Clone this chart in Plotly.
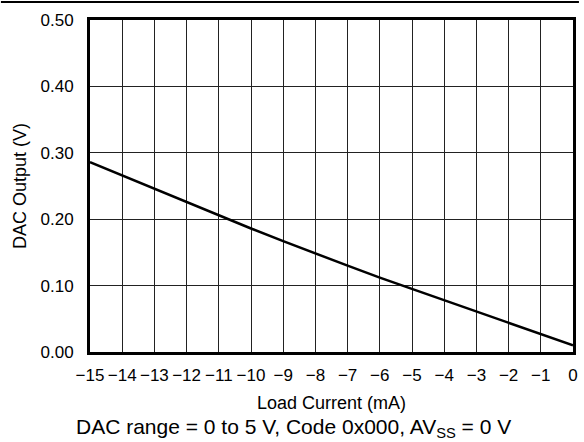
import plotly.graph_objects as go

load_current = [-15, -14, -13, -12, -11, -10, -9, -8, -7, -6, -5, -4, -3, -2, -1, 0]
dac_output = [0.286, 0.266, 0.246, 0.225, 0.205, 0.186, 0.167, 0.148, 0.130, 0.112, 0.095, 0.078, 0.061, 0.043, 0.026, 0.010]

x_ticks = list(range(-15, 1))
x_tick_text = ["\u2212" + str(-v) if v < 0 else str(v) for v in x_ticks]
y_ticks = [0.0, 0.1, 0.2, 0.3, 0.4, 0.5]
y_tick_text = ["0.00", "0.10", "0.20", "0.30", "0.40", "0.50"]

font_family = "Liberation Sans, Arial, sans-serif"

fig = go.Figure()
fig.add_trace(go.Scatter(
    x=load_current, y=dac_output, mode="lines",
    line=dict(color="black", width=2.5), showlegend=False, hoverinfo="skip"
))

fig.update_layout(
    width=584, height=442,
    margin=dict(l=90, r=6, t=20, b=90),
    paper_bgcolor="white", plot_bgcolor="white",
    font=dict(family=font_family, color="black", size=17),
    xaxis=dict(
        range=[-15, 0], tickvals=x_ticks, ticktext=x_tick_text,
        showgrid=True, gridcolor="#222", gridwidth=1,
        zeroline=False, showline=True, linecolor="black", linewidth=3, mirror=True,
        ticks="", tickfont=dict(size=17, family=font_family),
        ticklabelstandoff=6,
        title=dict(text="Load Current (mA)", font=dict(size=18, family=font_family), standoff=12),
    ),
    yaxis=dict(
        range=[0, 0.5], tickvals=y_ticks, ticktext=y_tick_text,
        showgrid=True, gridcolor="#222", gridwidth=1,
        zeroline=False, showline=True, linecolor="black", linewidth=3, mirror=True,
        ticks="", tickfont=dict(size=17, family=font_family),
        ticklabelstandoff=10,
        title=dict(text="DAC Output (V)", font=dict(size=18, family=font_family), standoff=10),
    ),
    annotations=[dict(
        text="DAC range = 0 to 5 V, Code 0x000, AV<sub>SS</sub> = 0 V",
        xref="paper", yref="paper", x=0.422, y=-76 / 332, xanchor="center", yanchor="middle",
        showarrow=False, font=dict(size=21, family=font_family, color="black"),
    )],
    shapes=[dict(
        type="line", xref="paper", yref="paper",
        x0=-90 / 488, x1=(584 - 90) / 488, y0=1 + 18 / 332, y1=1 + 18 / 332,
        line=dict(color="black", width=2),
    )],
)

fig.write_html(
    "out.html",
    config={"displayModeBar": False},
    post_script="document.body.style.margin='0';document.body.style.overflow='hidden';",
)
